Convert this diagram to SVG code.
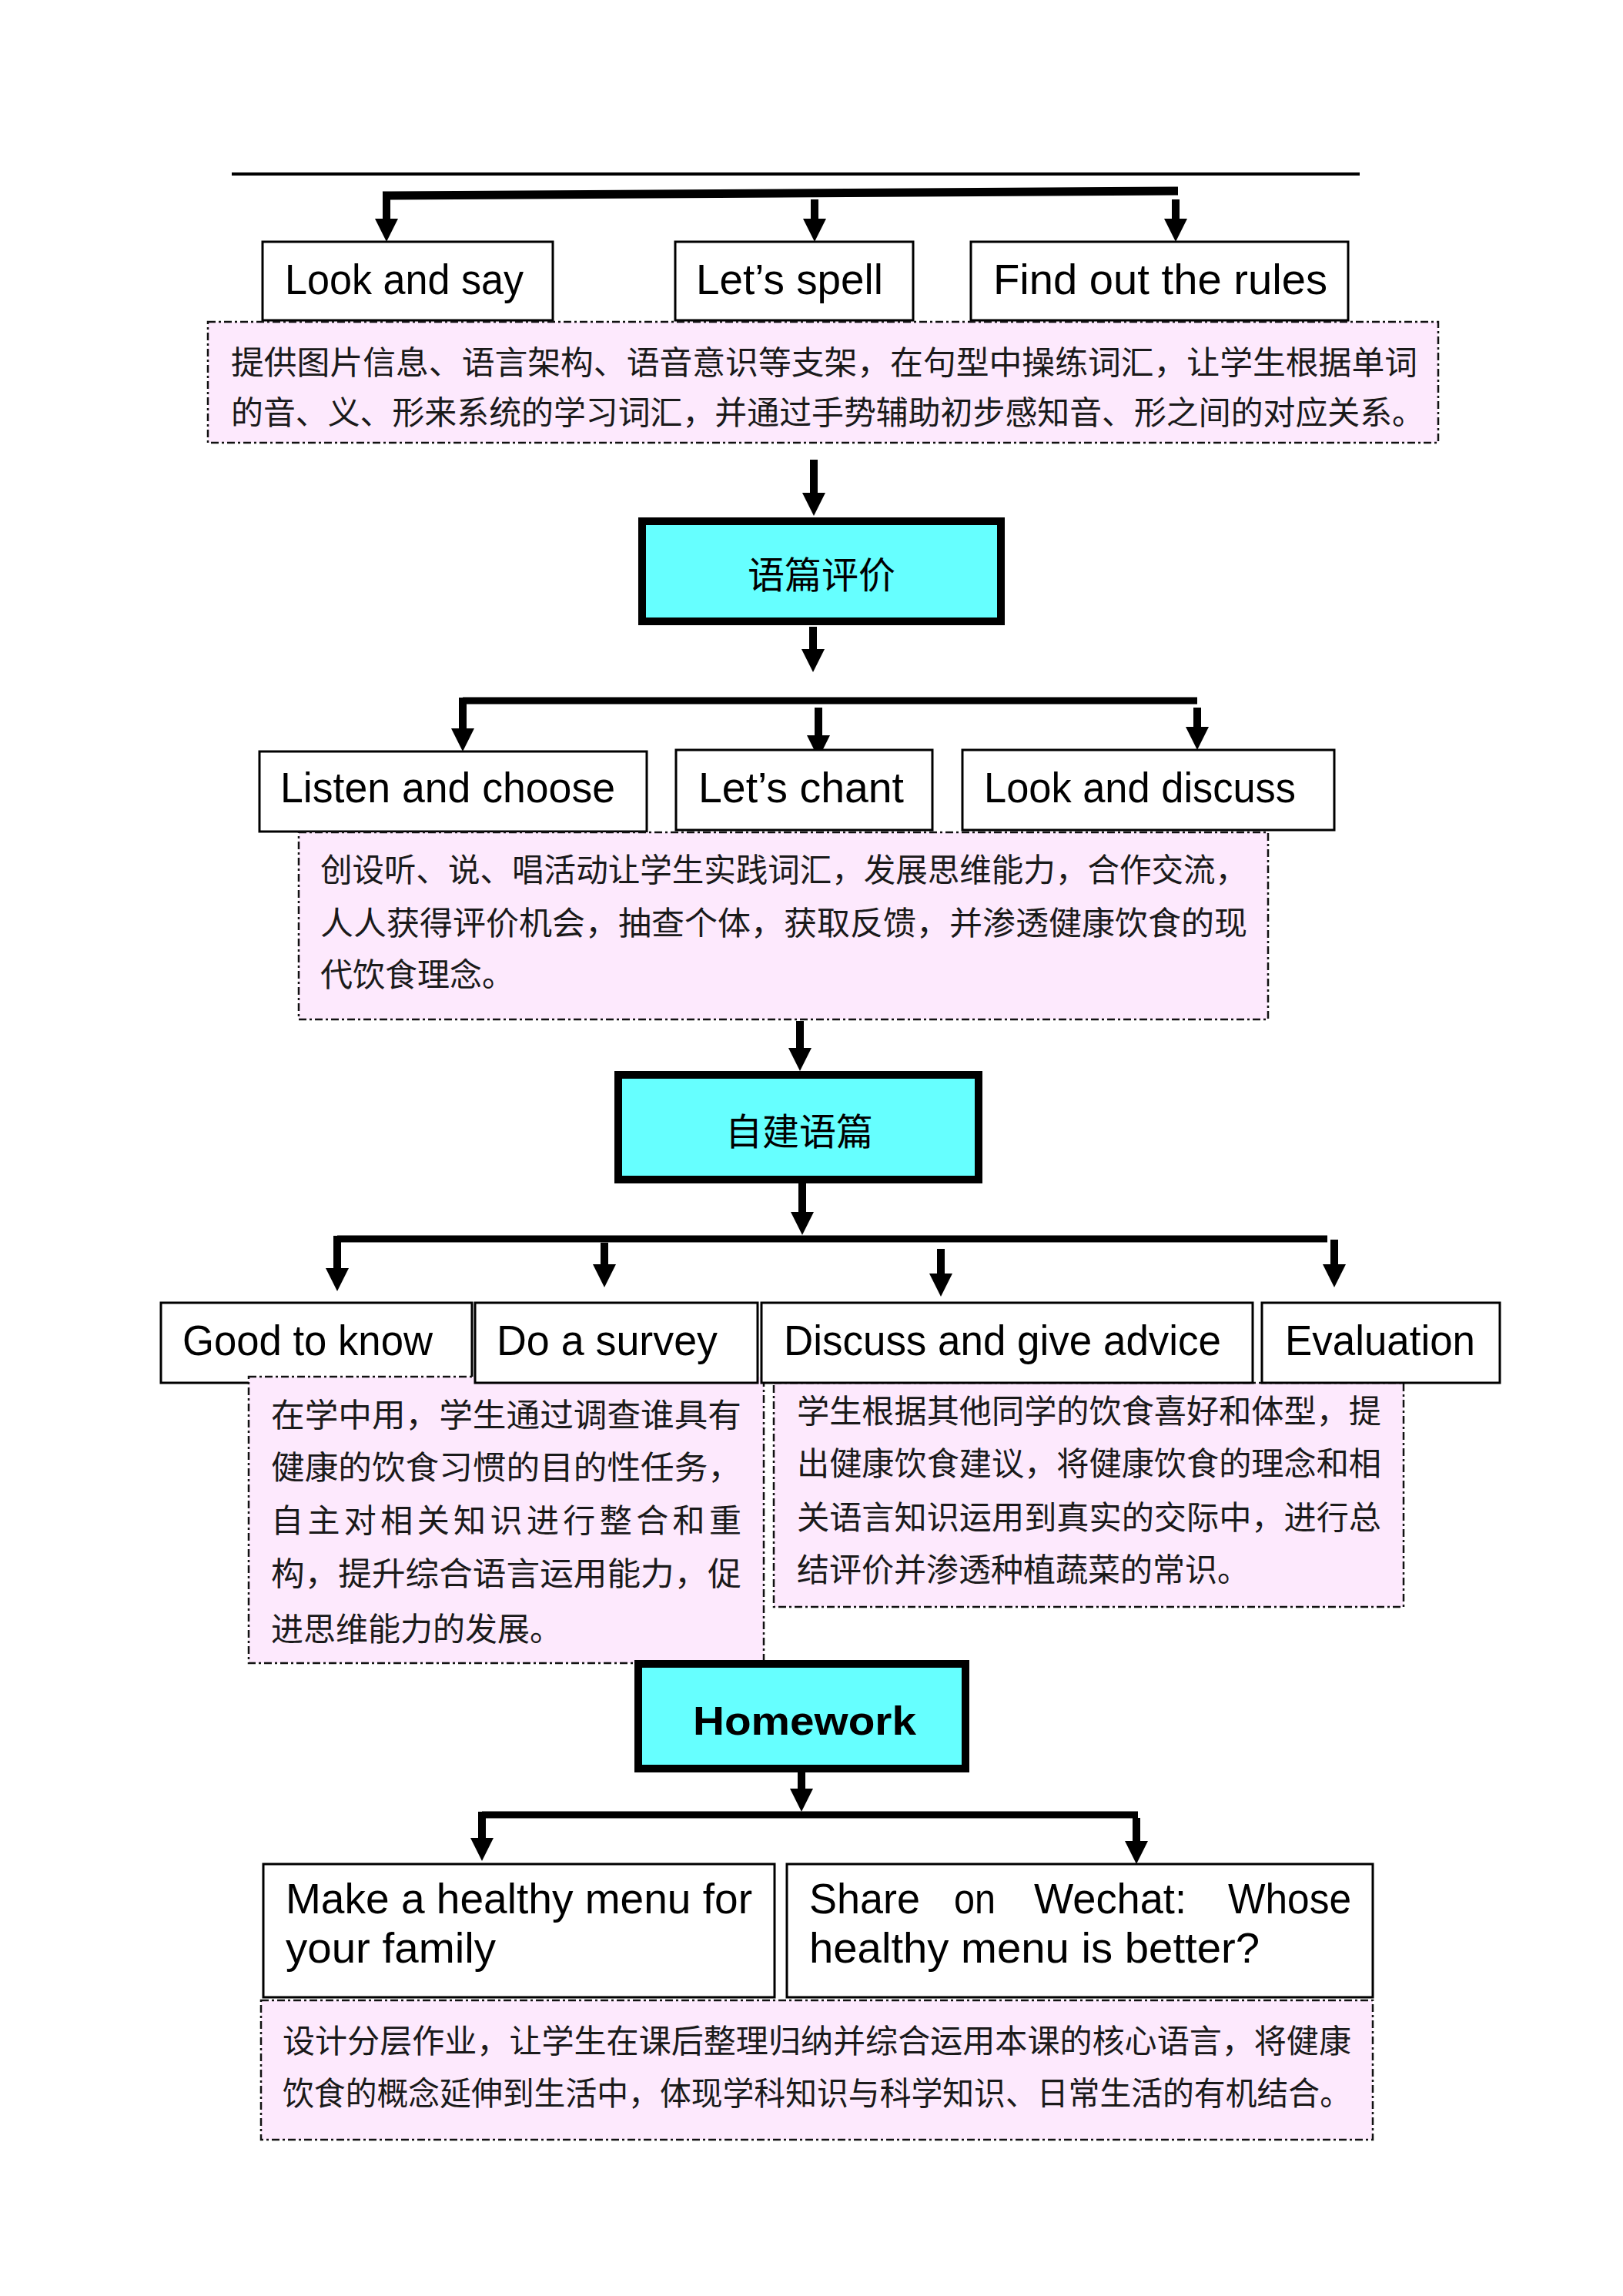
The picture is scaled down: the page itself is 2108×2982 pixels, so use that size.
<svg xmlns="http://www.w3.org/2000/svg" width="2108" height="2982" viewBox="0 0 2108 2982">
<style>
.box{fill:#fff;stroke:#000;stroke-width:3}
.hub{fill:#66FFFF;stroke:#000;stroke-width:10}
.note{fill:#FDE9FD;stroke:#111;stroke-width:2.5;stroke-dasharray:10 4 3 4}
.en{font-family:"Liberation Sans",Arial,sans-serif;font-size:56px;fill:#000}
.zh{font-family:"Noto Sans CJK SC",sans-serif;font-size:42px;fill:#1a1a1a}
.ht{font-family:"Noto Sans CJK SC",sans-serif;font-size:48px;fill:#000;text-anchor:middle}
.hw{font-family:"Arial Black","Liberation Sans",sans-serif;font-weight:900;font-size:52px;fill:#000}
.bar{stroke:#000;stroke-width:10;fill:none}
.shaft{stroke:#000;stroke-width:10;fill:none;marker-end:url(#ah)}
</style>
<defs>
<marker id="ah" markerUnits="userSpaceOnUse" viewBox="0 0 30 30" refX="0" refY="15" markerWidth="30" markerHeight="30" orient="auto">
<path d="M0,0 L30,15 L0,30 z" fill="#000"/>
</marker>
</defs>
<rect width="2108" height="2982" fill="#fff"/>
<line x1="301" y1="226" x2="1766" y2="226" stroke="#000" stroke-width="4"/>

<g id="connectors">
<line class="bar" x1="497" y1="254" x2="1530" y2="248" style="stroke-width:11"/>
<line class="shaft" x1="502" y1="252" x2="502" y2="284"/>
<line class="shaft" x1="1058" y1="259" x2="1058" y2="284"/>
<line class="shaft" x1="1527" y1="259" x2="1527" y2="284"/>
<line class="shaft" x1="1057" y1="597" x2="1057" y2="640"/>
<line class="shaft" x1="1056" y1="814" x2="1056" y2="843"/>
<line class="bar" x1="601" y1="910" x2="1555" y2="910" style="stroke-width:9"/>
<line class="shaft" x1="601" y1="906" x2="601" y2="946"/>
<line class="shaft" x1="1063" y1="919" x2="1063" y2="955"/>
<line class="shaft" x1="1555" y1="919" x2="1555" y2="944"/>
<line class="shaft" x1="1039" y1="1326" x2="1039" y2="1361"/>
<line class="shaft" x1="1042" y1="1537" x2="1042" y2="1574"/>
<line class="bar" x1="438" y1="1609" x2="1724" y2="1609" style="stroke-width:9"/>
<line class="shaft" x1="438" y1="1605" x2="438" y2="1647"/>
<line class="shaft" x1="785" y1="1614" x2="785" y2="1642"/>
<line class="shaft" x1="1222" y1="1622" x2="1222" y2="1654"/>
<line class="shaft" x1="1733" y1="1610" x2="1733" y2="1642"/>
<line class="shaft" x1="1041" y1="2302" x2="1041" y2="2323"/>
<line class="bar" x1="626" y1="2357" x2="1478" y2="2357" style="stroke-width:9"/>
<line class="shaft" x1="626" y1="2353" x2="626" y2="2387"/>
<line class="shaft" x1="1476" y1="2361" x2="1476" y2="2391"/>
</g>

<g id="look-and-say"><rect class="box" x="341" y="314" width="377" height="102"/><text class="en" x="370" y="382" textLength="310" lengthAdjust="spacingAndGlyphs">Look and say</text></g>
<g id="lets-spell"><rect class="box" x="877" y="314" width="309" height="102"/><text class="en" x="904" y="382" textLength="243" lengthAdjust="spacingAndGlyphs">Let’s spell</text></g>
<g id="find-out-the-rules"><rect class="box" x="1261" y="314" width="490" height="102"/><text class="en" x="1290" y="382" textLength="434" lengthAdjust="spacingAndGlyphs">Find out the rules</text></g>
<g id="note-1"><rect class="note" x="270" y="418" width="1598" height="157"/>
<text class="zh" x="300" y="486" textLength="1541" lengthAdjust="spacingAndGlyphs">提供图片信息、语言架构、语音意识等支架，在句型中操练词汇，让学生根据单词</text>
<text class="zh" x="300" y="551" textLength="1550" lengthAdjust="spacingAndGlyphs">的音、义、形来系统的学习词汇，并通过手势辅助初步感知音、形之间的对应关系。</text></g>

<g id="hub-yupian-pingjia"><rect class="hub" x="834" y="677" width="466" height="130"/><text class="ht" x="1067" y="764">语篇评价</text></g>

<g id="listen-and-choose"><rect class="box" x="337" y="976" width="503" height="104"/><text class="en" x="364" y="1042" textLength="435" lengthAdjust="spacingAndGlyphs">Listen and choose</text></g>
<g id="lets-chant"><rect class="box" x="878" y="974" width="333" height="104"/><text class="en" x="907" y="1042" textLength="267" lengthAdjust="spacingAndGlyphs">Let’s chant</text></g>
<g id="look-and-discuss"><rect class="box" x="1250" y="974" width="483" height="104"/><text class="en" x="1278" y="1042" textLength="405" lengthAdjust="spacingAndGlyphs">Look and discuss</text></g>
<g id="note-2"><rect class="note" x="388" y="1081" width="1259" height="243"/>
<text class="zh" x="416" y="1145" textLength="1204" lengthAdjust="spacingAndGlyphs">创设听、说、唱活动让学生实践词汇，发展思维能力，合作交流，</text>
<text class="zh" x="416" y="1214" textLength="1204" lengthAdjust="spacingAndGlyphs">人人获得评价机会，抽查个体，获取反馈，并渗透健康饮食的现</text>
<text class="zh" x="416" y="1281">代饮食理念。</text></g>

<g id="hub-zijian-yupian"><rect class="hub" x="803" y="1396" width="468" height="136"/><text class="ht" x="1038" y="1487">自建语篇</text></g>

<g id="good-to-know"><rect class="box" x="209" y="1692" width="404" height="104"/><text class="en" x="237" y="1760" textLength="325" lengthAdjust="spacingAndGlyphs">Good to know</text></g>
<g id="note-3a"><rect class="note" x="323" y="1788" width="669" height="372"/>
<text class="zh" x="352" y="1853" textLength="611" lengthAdjust="spacingAndGlyphs">在学中用，学生通过调查谁具有</text>
<text class="zh" x="352" y="1921" textLength="611" lengthAdjust="spacingAndGlyphs">健康的饮食习惯的目的性任务，</text>
<text class="zh" x="352" y="1990" textLength="611" lengthAdjust="spacing">自主对相关知识进行整合和重</text>
<text class="zh" x="352" y="2059" textLength="611" lengthAdjust="spacingAndGlyphs">构，提升综合语言运用能力，促</text>
<text class="zh" x="352" y="2131">进思维能力的发展。</text></g>
<g id="do-a-survey"><rect class="box" x="617" y="1692" width="367" height="104"/><text class="en" x="645" y="1760" textLength="287" lengthAdjust="spacingAndGlyphs">Do a survey</text></g>
<g id="note-3b"><rect class="note" x="1005" y="1796" width="818" height="291"/>
<text class="zh" x="1035" y="1848" textLength="759" lengthAdjust="spacingAndGlyphs">学生根据其他同学的饮食喜好和体型，提</text>
<text class="zh" x="1035" y="1916" textLength="759" lengthAdjust="spacingAndGlyphs">出健康饮食建议，将健康饮食的理念和相</text>
<text class="zh" x="1035" y="1986" textLength="759" lengthAdjust="spacingAndGlyphs">关语言知识运用到真实的交际中，进行总</text>
<text class="zh" x="1035" y="2054">结评价并渗透种植蔬菜的常识。</text></g>
<g id="discuss-and-give-advice"><rect class="box" x="989" y="1692" width="638" height="104"/><text class="en" x="1018" y="1760" textLength="568" lengthAdjust="spacingAndGlyphs">Discuss and give advice</text></g>
<g id="evaluation"><rect class="box" x="1639" y="1692" width="309" height="104"/><text class="en" x="1669" y="1760" textLength="247" lengthAdjust="spacingAndGlyphs">Evaluation</text></g>

<g id="hub-homework"><rect class="hub" x="829" y="2161" width="425" height="136"/><text class="hw" x="900" y="2253" textLength="290" lengthAdjust="spacingAndGlyphs">Homework</text></g>

<g id="make-menu"><rect class="box" x="342" y="2421" width="664" height="173"/>
<text class="en" x="371" y="2485" textLength="606" lengthAdjust="spacingAndGlyphs">Make a healthy menu for</text>
<text class="en" x="371" y="2549" textLength="273" lengthAdjust="spacingAndGlyphs">your family</text></g>
<g id="share-wechat"><rect class="box" x="1022" y="2421" width="761" height="173"/>
<text class="en" y="2485"><tspan x="1051" textLength="144" lengthAdjust="spacingAndGlyphs">Share</tspan><tspan x="1239" textLength="54" lengthAdjust="spacingAndGlyphs">on</tspan><tspan x="1343" textLength="198" lengthAdjust="spacingAndGlyphs">Wechat:</tspan><tspan x="1595" textLength="160" lengthAdjust="spacingAndGlyphs">Whose</tspan></text>
<text class="en" x="1051" y="2549" textLength="585" lengthAdjust="spacingAndGlyphs">healthy menu is better?</text></g>
<g id="note-4"><rect class="note" x="339" y="2598" width="1444" height="181"/>
<text class="zh" x="367" y="2666" textLength="1388" lengthAdjust="spacingAndGlyphs">设计分层作业，让学生在课后整理归纳并综合运用本课的核心语言，将健康</text>
<text class="zh" x="367" y="2734" textLength="1388" lengthAdjust="spacingAndGlyphs">饮食的概念延伸到生活中，体现学科知识与科学知识、日常生活的有机结合。</text></g>
</svg>
